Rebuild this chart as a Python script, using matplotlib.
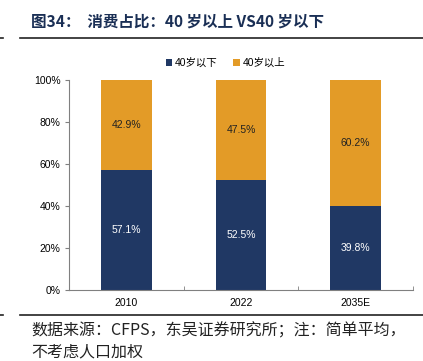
import numpy as np
import matplotlib.pyplot as plt
from matplotlib.lines import Line2D

plt.rcParams['font.family'] = ['Liberation Sans', 'Noto Sans CJK SC', 'DejaVu Sans']

# Données
categories = ['2010', '2022', '2035E']
under_40 = [57.1, 52.5, 39.8]
over_40 = [42.9, 47.5, 60.2]
series_names = ['40岁以下', '40岁以上']

navy = '#203864'
orange = '#E39B27'

fig = plt.figure(figsize=(4.23, 3.61), dpi=100)
ax = fig.add_axes([69 / 423, 1 - 290 / 361, 344 / 423, 210 / 361])

x = np.arange(len(categories))
w = 0.44
ax.bar(x, under_40, width=w, color=navy, label=series_names[0])
ax.bar(x, over_40, width=w, bottom=under_40, color=orange, label=series_names[1])

for i in range(len(categories)):
    ax.text(x[i], under_40[i] / 2, f'{under_40[i]:.1f}%', ha='center', va='center',
            color='white', fontsize=7.5)
    ax.text(x[i], under_40[i] + over_40[i] / 2, f'{over_40[i]:.1f}%', ha='center',
            va='center', color='#222222', fontsize=7.5)

ax.set_xlim(-0.5, len(categories) - 0.5)
ax.set_ylim(0, 100)
ax.set_yticks(np.arange(0, 101, 20))
ax.set_yticklabels([f'{v}%' for v in range(0, 101, 20)], fontsize=7.5)
ax.set_xticks(x)
ax.set_xticklabels(categories, fontsize=7.5)
ax.set_xticks(np.arange(-0.5, len(categories)), minor=True)
ax.tick_params(axis='x', which='major', length=0, pad=6)
ax.tick_params(axis='x', which='minor', length=3, direction='in', color='#808080')
ax.tick_params(axis='y', length=3, color='#808080', pad=3)
for s in ['top', 'right']:
    ax.spines[s].set_visible(False)
for s in ['left', 'bottom']:
    ax.spines[s].set_color('#808080')
    ax.spines[s].set_linewidth(0.8)

ax.legend(loc='upper center', bbox_to_anchor=(0.455, 1.15), ncol=2, frameon=False,
          fontsize=7.5, handlelength=0.6, handleheight=0.6, handletextpad=0.3,
          columnspacing=1.5)

# Titre et lignes
fig.text(31 / 423, 1 - 22 / 361, '图34：  消费占比：40 岁以上 VS40 岁以下', fontsize=11.2,
         fontweight='bold', color='#1A2F55', va='center', ha='left',
         family=['Noto Sans CJK SC', 'DejaVu Sans'])
fig.add_artist(Line2D([20 / 423, 1], [1 - 38 / 361] * 2, color='#222222', lw=1.2))
fig.add_artist(Line2D([0, 3 / 423], [1 - 38 / 361] * 2, color='#222222', lw=1.2))
fig.add_artist(Line2D([20 / 423, 1], [1 - 315 / 361] * 2, color='#222222', lw=1.2))
fig.add_artist(Line2D([0, 3 / 423], [1 - 315 / 361] * 2, color='#222222', lw=1.2))

fig.text(31 / 423, 1 - 331 / 361, '数据来源：CFPS，东吴证券研究所；注：简单平均，',
         fontsize=11.5, color='#222222', va='center', ha='left',
         family=['Noto Sans CJK SC', 'DejaVu Sans'])
fig.text(31 / 423, 1 - 352 / 361, '不考虑人口加权', fontsize=11.5, color='#222222',
         va='center', ha='left', family=['Noto Sans CJK SC', 'DejaVu Sans'])

fig.savefig('out.png', dpi=100)
